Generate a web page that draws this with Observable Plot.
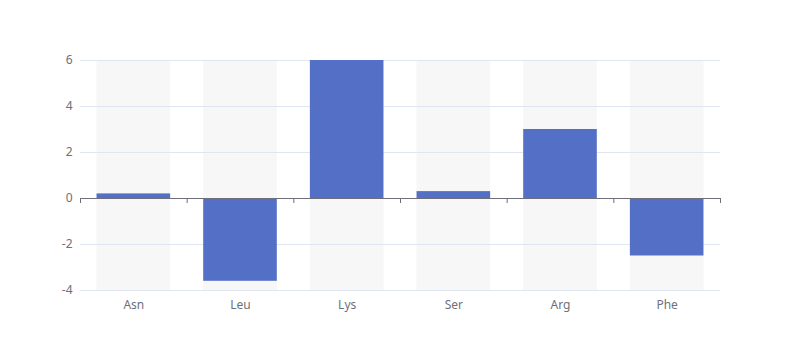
<!DOCTYPE html>
<html>
<head>
<meta charset="utf-8">
<script src="https://cdn.jsdelivr.net/npm/d3@7"></script>
<script src="https://cdn.jsdelivr.net/npm/@observablehq/plot@0.6"></script>
<style>
  html, body { margin: 0; padding: 0; background: #fff; }
  #chart { width: 800px; height: 360px; }
</style>
</head>
<body>
<div id="chart"></div>
<script>
const categories = ["Asn", "Leu", "Lys", "Ser", "Arg", "Phe"];
const values = [0.2, -3.6, 6, 0.3, 3, -2.5];
const yTicks = [-4, -2, 0, 2, 4, 6];
const yDomain = [-4, 6];

const data = categories.map((c, i) => ({cat: c, value: values[i]}));

const W = 800, H = 360, ML = 80, MR = 80, MT = 60, MB = 70;
const step = (W - ML - MR) / categories.length;

const chart = Plot.plot({
  width: W,
  height: H,
  marginLeft: ML,
  marginRight: MR,
  marginTop: MT,
  marginBottom: MB,
  style: {
    fontFamily: "'Noto Sans', sans-serif",
    fontSize: "12px",
    color: "#6E7079",
    background: "#fff",
    overflow: "visible"
  },
  x: {
    domain: categories,
    paddingInner: 0.31,
    paddingOuter: 0.155,
    align: 0.5,
    round: false,
    label: null,
    tickSize: 0,
    tickPadding: 10
  },
  y: {
    domain: yDomain,
    ticks: yTicks,
    tickFormat: d => String(d),
    label: null,
    tickSize: 0,
    tickPadding: 8
  },
  marks: [
    Plot.barY(data, {x: "cat", y1: yDomain[0], y2: yDomain[1], fill: "#F7F7F7"}),
    Plot.ruleY(yTicks.filter(t => t !== 0), {stroke: "#E0E6F1"}),
    Plot.barY(data, {x: "cat", y: "value", fill: "#5470C6"}),
    Plot.ruleY([0], {stroke: "#6E7079"}),
    Plot.ruleX(categories, {x: d => d, y1: 0, y2: 0, insetBottom: -5, dx: -step / 2, stroke: "#6E7079"}),
    Plot.ruleX(categories.slice(-1), {x: d => d, y1: 0, y2: 0, insetBottom: -5, dx: step / 2, stroke: "#6E7079"})
  ]
});

document.getElementById("chart").appendChild(chart);
</script>
</body>
</html>
